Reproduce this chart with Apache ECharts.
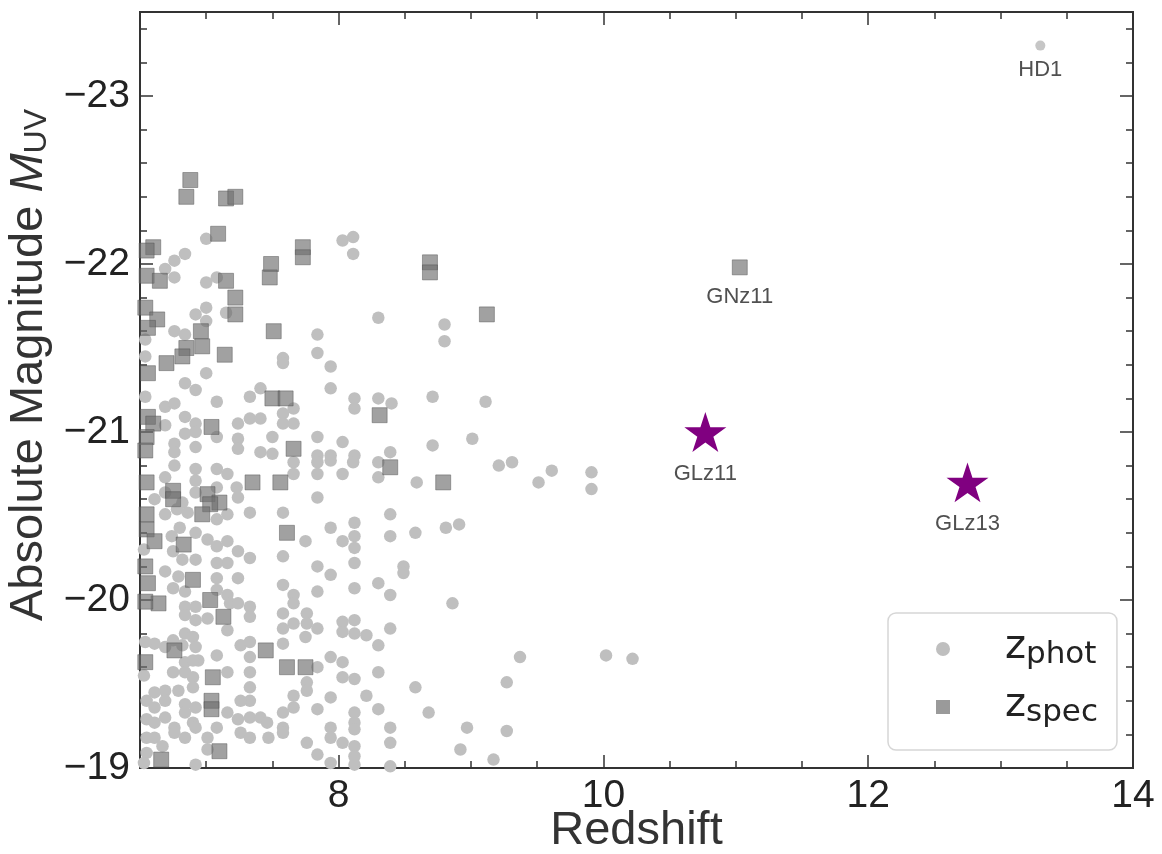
<!DOCTYPE html>
<html lang="en">

<head>
    <meta charset="UTF-8">
    <title>Absolute Magnitude vs Redshift</title>
    <script src="https://cdnjs.cloudflare.com/ajax/libs/echarts/6.0.0/echarts.min.js"></script>
    <style>
        html, body { margin: 0; padding: 0; background: #fff; }
    </style>
</head>

<body>
    <div id="main" style="width: 1162px;height:854px;"></div>

    <script type="text/javascript">
        // photometric redshift sample [z, M_UV]
        const photPoints = [
            [7.00, -22.15], [6.84, -22.06], [6.76, -22.02], [6.69, -21.97], [6.76, -21.92], [7.00, -21.89], [7.08, -21.92],
            [7.00, -21.74], [6.92, -21.70], [7.00, -21.66], [7.15, -21.71], [6.76, -21.60], [6.84, -21.58], [6.54, -21.45],
            [7.00, -21.35], [6.84, -21.29], [6.92, -21.25], [6.54, -21.21], [7.08, -21.18], [7.33, -21.21], [7.41, -21.26],
            [6.69, -21.15], [6.76, -21.17], [6.84, -21.09], [6.92, -21.05], [6.69, -21.04], [7.24, -21.05], [7.33, -21.08],
            [7.41, -21.08], [6.84, -20.99], [6.92, -21.00], [7.24, -20.96], [7.50, -20.97], [6.76, -20.93], [6.92, -20.91],
            [7.24, -20.90], [7.41, -20.88], [7.50, -20.87], [6.76, -20.88], [7.08, -20.97],
            [8.03, -22.14], [8.11, -22.16], [8.11, -22.06], [8.30, -21.68], [7.84, -21.58], [7.84, -21.47], [7.94, -21.39],
            [7.58, -21.44], [7.58, -21.41], [7.94, -21.26], [7.66, -21.14], [7.58, -21.11], [7.58, -21.05], [7.66, -21.05],
            [8.12, -21.20], [8.12, -21.14], [8.30, -21.20], [8.40, -21.17], [7.84, -20.97], [8.03, -20.94], [7.84, -20.86],
            [7.94, -20.86], [8.12, -20.86], [8.39, -20.88],
            [6.76, -20.80], [6.92, -20.78], [7.08, -20.78], [7.16, -20.75], [6.69, -20.73], [6.92, -20.71], [7.23, -20.67],
            [7.24, -20.61], [7.08, -20.67], [6.69, -20.64], [6.61, -20.60], [6.82, -20.58], [6.92, -20.64], [7.33, -20.52],
            [6.69, -20.51], [6.78, -20.54], [6.86, -20.52], [7.08, -20.48], [7.16, -20.51], [6.80, -20.43], [6.74, -20.38],
            [6.92, -20.40], [7.01, -20.36], [7.08, -20.32], [7.16, -20.35], [7.24, -20.29], [7.16, -20.22], [7.08, -20.22],
            [6.75, -20.29], [6.82, -20.24], [6.92, -20.24], [7.33, -20.25], [6.69, -20.17], [6.79, -20.14], [6.75, -20.07],
            [6.84, -20.05], [7.08, -20.13], [7.24, -20.13], [7.08, -20.06], [7.16, -20.03], [6.84, -19.96], [6.92, -19.96],
            [6.84, -19.91], [6.92, -19.88], [7.01, -19.89], [7.18, -19.98], [7.24, -19.98], [7.33, -19.96], [7.33, -19.90],
            [7.16, -19.82], [6.75, -19.76], [6.61, -19.74], [6.69, -19.72], [6.84, -19.80], [6.90, -19.78], [6.82, -19.73],
            [6.92, -19.72], [6.94, -19.64], [6.84, -19.63], [6.90, -19.64], [7.08, -19.67], [7.26, -19.73], [7.33, -19.75],
            [7.33, -19.66], [7.16, -19.57], [6.84, -19.57], [6.75, -19.57], [6.90, -19.54], [6.79, -19.46], [6.90, -19.48],
            [7.33, -19.57], [7.33, -19.48], [7.33, -19.40], [7.26, -19.40], [6.69, -19.46], [6.61, -19.45], [6.55, -19.40],
            [6.61, -19.36], [6.69, -19.40], [6.84, -19.38], [6.92, -19.36], [6.55, -19.29], [6.61, -19.27], [6.69, -19.30],
            [6.76, -19.24], [6.84, -19.33], [6.90, -19.27], [6.76, -19.21], [6.84, -19.18], [6.55, -19.18], [6.61, -19.18],
            [6.67, -19.13], [6.55, -19.09], [6.92, -19.24], [7.01, -19.18], [7.08, -19.24], [7.16, -19.33], [7.24, -19.29],
            [7.33, -19.30], [7.26, -19.21], [7.33, -19.18], [7.41, -19.30], [7.46, -19.27], [7.47, -19.18], [7.01, -19.11],
            [6.92, -19.02],
            [7.66, -20.82], [7.84, -20.82], [7.94, -20.83], [8.11, -20.82], [8.30, -20.82], [7.66, -20.75], [7.84, -20.75],
            [8.03, -20.75], [8.30, -20.73], [8.59, -20.70], [7.84, -20.61], [7.58, -20.52], [7.94, -20.43], [8.12, -20.46],
            [8.12, -20.38], [8.12, -20.31], [8.03, -20.35], [7.75, -20.35], [8.39, -20.51], [8.39, -20.38], [8.58, -20.40],
            [7.58, -20.26], [7.84, -20.20], [7.94, -20.15], [8.12, -20.22], [8.49, -20.20], [8.49, -20.16], [7.58, -20.09],
            [7.66, -20.03], [7.66, -19.98], [7.84, -20.05], [8.12, -20.07], [8.30, -20.10], [8.39, -20.03], [7.58, -19.92],
            [7.66, -19.86], [7.76, -19.92], [7.76, -19.86], [7.58, -19.83], [7.84, -19.83], [8.03, -19.87], [8.03, -19.81],
            [8.12, -19.88], [8.12, -19.80], [8.21, -19.79], [8.30, -19.73], [8.39, -19.83], [7.58, -19.74], [7.75, -19.78],
            [7.94, -19.66], [8.03, -19.63], [7.84, -19.60], [8.03, -19.54], [8.12, -19.53], [8.30, -19.57], [8.58, -19.48],
            [8.21, -19.43], [7.76, -19.51], [7.76, -19.46], [7.66, -19.43], [7.66, -19.36], [7.58, -19.33], [7.94, -19.42],
            [7.84, -19.35], [8.12, -19.33], [8.12, -19.27], [8.30, -19.35], [7.58, -19.24], [7.58, -19.21], [7.94, -19.24],
            [7.94, -19.18], [8.12, -19.23], [8.03, -19.15], [8.12, -19.13], [8.39, -19.24], [8.39, -19.15], [7.76, -19.15],
            [7.84, -19.08], [7.94, -19.03], [8.12, -19.07], [8.12, -19.02], [8.39, -19.01],
            [8.80, -21.64], [8.80, -21.54], [8.71, -21.21], [9.11, -21.18], [8.71, -20.92], [9.01, -20.96], [9.21, -20.80],
            [9.31, -20.82], [9.61, -20.77], [9.51, -20.70], [9.91, -20.76], [9.91, -20.66], [8.81, -20.43], [8.91, -20.45],
            [8.86, -19.98], [9.37, -19.66], [9.27, -19.51], [8.68, -19.33], [8.97, -19.24], [9.27, -19.22], [8.92, -19.11],
            [9.17, -19.05], [10.02, -19.67], [10.22, -19.65],
            [6.53, -19.55], [6.53, -19.03], [6.54, -19.75], [6.54, -21.55], [6.53, -20.30]
        ];

        // spectroscopic redshift sample [z, M_UV]
        const specPoints = [
            [6.88, -22.50], [6.85, -22.40], [7.15, -22.39], [7.22, -22.40], [7.09, -22.18], [6.60, -22.10], [6.55, -22.08],
            [7.49, -22.00], [7.48, -21.92], [6.55, -21.93], [6.65, -21.90], [7.15, -21.90], [7.22, -21.80], [7.22, -21.70],
            [6.54, -21.74], [6.63, -21.67], [6.56, -21.62], [6.96, -21.60], [7.51, -21.60], [6.85, -21.50], [6.97, -21.51],
            [6.82, -21.45], [7.14, -21.46], [6.70, -21.41], [6.56, -21.35], [7.50, -21.20], [7.60, -21.20], [6.56, -21.09],
            [6.60, -21.05], [7.04, -21.03], [6.55, -20.97], [6.54, -20.89],
            [7.73, -22.10], [7.73, -22.04], [8.31, -21.10], [7.66, -20.90],
            [8.69, -22.01], [8.69, -21.95], [9.12, -21.70], [8.79, -20.70],
            [6.55, -20.70], [6.75, -20.65], [6.75, -20.60], [7.01, -20.63], [7.10, -20.58], [7.03, -20.57], [7.35, -20.70],
            [7.56, -20.70], [6.97, -20.51], [6.55, -20.51], [6.55, -20.42], [6.61, -20.35], [6.83, -20.33], [6.54, -20.20],
            [6.56, -20.10], [6.90, -20.12], [7.03, -20.00], [6.64, -19.98], [6.54, -19.99], [7.13, -19.90], [6.76, -19.70],
            [6.54, -19.63], [7.45, -19.70], [7.05, -19.54], [7.04, -19.40], [7.04, -19.35], [7.10, -19.10], [6.66, -19.05],
            [8.39, -20.79], [7.61, -20.40], [7.61, -19.60], [7.75, -19.60]
        ];

        // labelled objects
        const hd1 = { name: 'HD1', z: 13.30, m: -23.30 };
        const gnz11 = { name: 'GNz11', z: 11.03, m: -21.98 };
        const starNames = ['GLz11', 'GLz13'];
        const starZ = [10.77, 12.75];
        const starM = [-21.00, -20.70];

        // axis ticks
        const xMajor = [8, 10, 12, 14];
        const xMinor = [7, 7.5, 8.5, 9, 9.5, 10.5, 11, 11.5, 12.5, 13, 13.5];
        const yMajor = [-23, -22, -21, -20, -19];

        const yMinor = [];
        for (let k = -117; k <= -95; k++) {
            if (k % 5 !== 0) yMinor.push(k / 5);
        }

        const starPath = 'path://M50 0 L61.23 34.55 L97.55 34.55 L68.16 55.9 L79.39 90.45 L50 69.1 L20.61 90.45 L31.84 55.9 L2.45 34.55 L38.77 34.55 Z';
        const font = 'Liberation Sans';
        const frame = '#333';

        const myChart = echarts.init(document.getElementById('main'));

        function tickAxis(pos, ticks, len, withLabels) {
            return {
                type: 'value',
                position: pos,
                min: 6.5,
                max: 14,
                axisLine: { show: false, onZero: false },
                splitLine: { show: false },
                axisTick: {
                    show: true, inside: true, length: len,
                    customValues: ticks,
                    lineStyle: { color: frame, width: 1.5 }
                },
                axisLabel: withLabels ? {
                    customValues: ticks, margin: 9, fontSize: 39, color: '#222', fontFamily: font
                } : { show: false }
            };
        }

        const xAxes = [
            Object.assign(tickAxis('bottom', xMajor, 13, true), {
                name: 'Redshift', nameLocation: 'middle', nameGap: 40, nameMoveOverlap: false,
                nameTextStyle: { fontSize: 47, color: '#333', fontFamily: font }
            }),
            tickAxis('bottom', xMinor, 7, false),
            tickAxis('top', xMajor, 13, false),
            tickAxis('top', xMinor, 7, false)
        ];

        function yTickAxis(pos, ticks, len, withLabels) {
            return {
                type: 'value',
                position: pos,
                inverse: true,
                min: -23.5,
                max: -19,
                axisLine: { show: false, onZero: false },
                splitLine: { show: false },
                axisTick: {
                    show: true, inside: true, length: len,
                    customValues: ticks,
                    lineStyle: { color: frame, width: 1.5 }
                },
                axisLabel: withLabels ? {
                    customValues: ticks, margin: 10, fontSize: 39, color: '#222', fontFamily: font,
                    formatter: (v) => String(v).replace('-', '\u2212')
                } : { show: false }
            };
        }

        const yAxes = [
            Object.assign(yTickAxis('left', yMajor, 13, true), {
                name: 'Absolute Magnitude {i|M}{sub|UV}', nameLocation: 'middle', nameGap: 80, nameRotate: 90,
                nameTextStyle: {
                    fontSize: 47, color: '#333', fontFamily: font, lineHeight: 48, verticalAlign: 'top',
                    padding: [0, 0, 0, 50],
                    rich: {
                        i: { fontSize: 47, fontStyle: 'italic', color: '#333', fontFamily: font, lineHeight: 48, verticalAlign: 'top' },
                        sub: { fontSize: 32, color: '#333', fontFamily: font, lineHeight: 32, padding: [21, 0, 0, 0], verticalAlign: 'bottom' }
                    }
                }
            }),
            yTickAxis('left', yMinor, 7, false),
            yTickAxis('right', yMajor, 13, false),
            yTickAxis('right', yMinor, 7, false)
        ];

        const nameLabel = (dist) => ({
            show: true, position: 'bottom', distance: dist, formatter: '{b}',
            fontSize: 22, color: '#505050', fontFamily: font
        });

        const option = {
            animation: false,
            backgroundColor: '#fff',
            grid: {
                left: 140, right: 29, top: 12, bottom: 86,
                outerBoundsMode: 'none',
                containLabel: false,
                show: true, borderColor: frame, borderWidth: 2, backgroundColor: 'transparent'
            },
            legend: {
                left: 888, top: 613,
                orient: 'vertical',
                backgroundColor: '#fff',
                borderColor: '#d6d6d6', borderWidth: 1.5, borderRadius: 8,
                padding: [6, 19, 22, 48],
                itemGap: 7, itemWidth: 14, itemHeight: 14,
                data: [
                    { name: 'zphot', icon: 'circle', itemStyle: { color: '#bfbfbf', borderWidth: 0 } },
                    { name: 'zspec', icon: 'rect', itemStyle: { color: '#9a9a9a', borderWidth: 0 } }
                ],
                formatter: (n) => n === 'zphot' ? '{z|z}{s|phot}' : '{z|z}{s|spec}',
                textStyle: {
                    rich: {
                        z: { fontSize: 40, color: '#222', fontFamily: 'DejaVu Sans', lineHeight: 42, verticalAlign: 'top', padding: [0, 0, 0, 50] },
                        s: { fontSize: 31, color: '#222', fontFamily: 'DejaVu Sans', lineHeight: 31, padding: [20, 0, 0, 0], verticalAlign: 'bottom' }
                    }
                }
            },
            xAxis: xAxes,
            yAxis: yAxes,
            series: [
                {
                    name: 'zphot',
                    type: 'scatter',
                    symbol: 'circle',
                    symbolSize: 12.5,
                    itemStyle: { color: '#bfbfbf', opacity: 1 },
                    data: photPoints.map(p => ({ value: p })).concat([{
                        name: hd1.name, value: [hd1.z, hd1.m], symbolSize: 10,
                        itemStyle: { color: '#c6c6c6' }, label: nameLabel(8)
                    }]),
                    z: 2
                },
                {
                    name: 'zspec',
                    type: 'scatter',
                    symbol: 'rect',
                    symbolSize: 15,
                    itemStyle: { color: 'rgba(110,110,110,0.65)', borderColor: 'rgba(80,80,80,0.45)', borderWidth: 1, opacity: 1 },
                    data: specPoints.map(p => ({ value: p })).concat([{
                        name: gnz11.name, value: [gnz11.z, gnz11.m], label: nameLabel(11)
                    }]),
                    z: 3
                },
                {
                    name: 'stars',
                    type: 'scatter',
                    symbol: starPath,
                    symbolKeepAspect: true,
                    symbolSize: 42,
                    itemStyle: { color: '#800080', opacity: 1 },
                    label: nameLabel(11),
                    data: starNames.map((n, i) => ({ name: n, value: [starZ[i], starM[i]] })),
                    z: 4
                }
            ]
        };

        myChart.setOption(option);
    </script>
</body>

</html>
